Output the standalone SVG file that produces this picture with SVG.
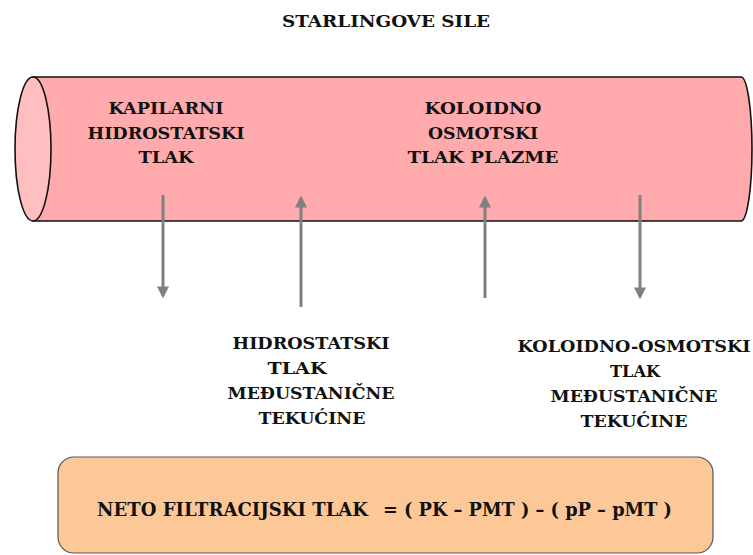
<svg xmlns="http://www.w3.org/2000/svg" width="753" height="555" viewBox="0 0 753 555">
<style>
text{font-family:'DejaVu Serif',serif;font-weight:bold;fill:#111;}
.t{font-size:17.5px;text-anchor:middle;}
.ar{stroke:#808080;stroke-width:3;fill:none;}
</style>
<defs>
<marker id="ah" viewBox="0 0 10 10" refX="8" refY="5" markerWidth="4" markerHeight="4" markerUnits="strokeWidth" orient="auto">
<path d="M0,0 L10,5 L0,10 Z" fill="#808080"/>
</marker>
</defs>
<rect width="753" height="555" fill="#fff"/>
<text id="title" x="386" y="27" font-size="17.5" text-anchor="middle" textLength="208" lengthAdjust="spacingAndGlyphs">STARLINGOVE  SILE</text>
<g id="cylinder">
<path d="M33,77 L741,77 A11,72 0 0 1 741,221 L33,221 Z" fill="#FFAAAD" stroke="#111" stroke-width="1.6"/>
<ellipse cx="33" cy="149" rx="18" ry="72" fill="#FFBEC0" stroke="#111" stroke-width="1.6"/>
</g>
<g id="kapilarni">
<text class="t" x="166" y="114" textLength="115" lengthAdjust="spacingAndGlyphs">KAPILARNI</text>
<text class="t" x="166" y="139" textLength="157" lengthAdjust="spacingAndGlyphs">HIDROSTATSKI</text>
<text class="t" x="166" y="163" textLength="55" lengthAdjust="spacingAndGlyphs">TLAK</text>
</g>
<g id="koloidno">
<text class="t" x="483" y="114" textLength="117" lengthAdjust="spacingAndGlyphs">KOLOIDNO</text>
<text class="t" x="483" y="139" textLength="110" lengthAdjust="spacingAndGlyphs">OSMOTSKI</text>
<text class="t" x="483" y="163" textLength="151" lengthAdjust="spacingAndGlyphs">TLAK PLAZME</text>
</g>
<g id="connectors">
<line class="ar" x1="163" y1="195" x2="163" y2="296" marker-end="url(#ah)"/>
<line class="ar" x1="301" y1="307" x2="301" y2="198" marker-end="url(#ah)"/>
<line class="ar" x1="485" y1="298" x2="485" y2="198" marker-end="url(#ah)"/>
<line class="ar" x1="640" y1="195" x2="640" y2="297" marker-end="url(#ah)"/>
</g>
<g id="hidrostatski">
<text class="t" x="311" y="349" textLength="157" lengthAdjust="spacingAndGlyphs">HIDROSTATSKI</text>
<text class="t" x="297" y="374" textLength="59" lengthAdjust="spacingAndGlyphs">TLAK</text>
<text class="t" x="311" y="399" textLength="167" lengthAdjust="spacingAndGlyphs">MEĐUSTANIČNE</text>
<text class="t" x="312" y="424" textLength="107" lengthAdjust="spacingAndGlyphs">TEKUĆINE</text>
</g>
<g id="koloidno-osmotski">
<text class="t" x="634" y="352" textLength="233" lengthAdjust="spacingAndGlyphs">KOLOIDNO-OSMOTSKI</text>
<text class="t" x="635" y="377" textLength="50" lengthAdjust="spacingAndGlyphs">TLAK</text>
<text class="t" x="634" y="402" textLength="167" lengthAdjust="spacingAndGlyphs">MEĐUSTANIČNE</text>
<text class="t" x="634" y="427" textLength="107" lengthAdjust="spacingAndGlyphs">TEKUĆINE</text>
</g>
<g id="formula">
<rect x="58" y="457" width="655" height="96" rx="16" fill="#FCC898" stroke="#555" stroke-width="1.2"/>
<text x="97" y="516" font-size="18" textLength="271" lengthAdjust="spacingAndGlyphs">NETO FILTRACIJSKI TLAK</text>
<text x="383" y="516" font-size="18" textLength="289" lengthAdjust="spacingAndGlyphs">= ( PK  –  PMT )  –  ( pP – pMT )</text>
</g>
</svg>
